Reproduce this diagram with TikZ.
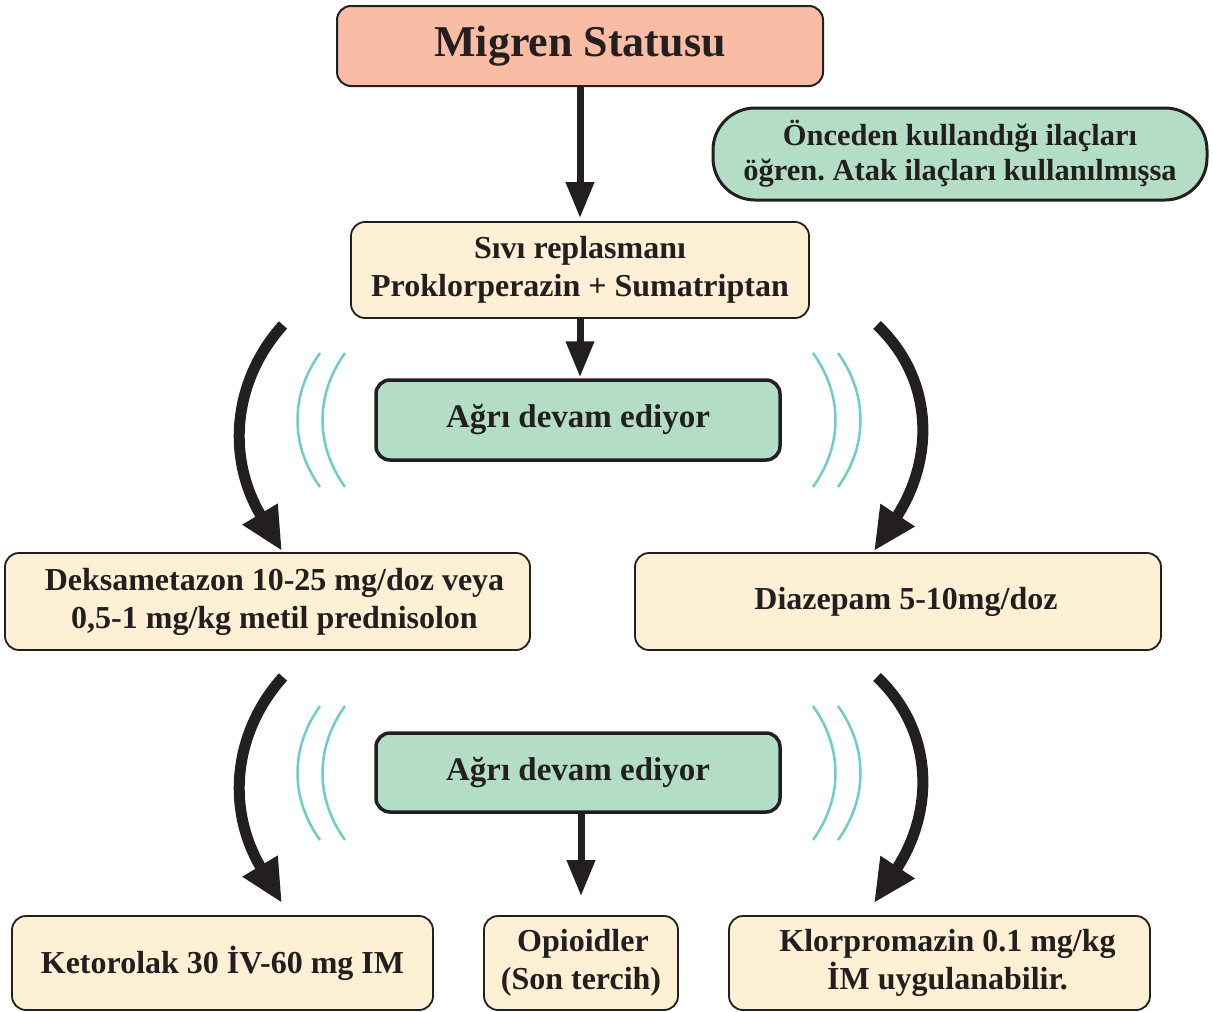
\documentclass[tikz,border=0pt]{standalone}
\usepackage{fontspec}
\setmainfont{Liberation Serif}
\usetikzlibrary{arrows.meta,calc}
\definecolor{ink}{HTML}{231F20}
\definecolor{cream}{HTML}{FEF0D4}
\definecolor{salmon}{HTML}{F9BDA6}
\definecolor{mint}{HTML}{B3DEC5}
\definecolor{aqua}{HTML}{6DCDC9}
\frenchspacing

\begin{document}
\begin{tikzpicture}[x=1pt,y=-1pt,
  box/.style={draw=ink, rounded corners=14pt, align=center, text=ink, inner sep=0pt,
              font=\bfseries\fontsize{32}{38}\selectfont},
  creambox/.style={box, fill=cream, line width=1.8pt},
  greenbox/.style={box, fill=mint, line width=3.5pt},
  flow/.style={draw=ink, line width=7pt, -{Triangle[length=36pt,width=27pt]}},
  bendarrow/.style={draw=ink, line width=11pt, -{Triangle[length=43pt,width=38pt]}},
  wave/.style={draw=aqua, line width=2.5pt},
]
\useasboundingbox (0,0) rectangle (1213,1012);

% boxes
\node[box, fill=salmon, line width=2pt, minimum width=486pt, minimum height=80pt,
      font=\bfseries\fontsize{44}{50}\selectfont] (title) at (580,46) {Migren Statusu};
\node[greenbox, rounded corners=42pt, line width=3pt, minimum width=494pt, minimum height=92pt,
      font=\bfseries\fontsize{30.5}{35}\selectfont] (prev) at (960,154)
      {Önceden kullandığı ilaçları\\öğren. Atak ilaçları kullanılmışsa};
\node[creambox, minimum width=458pt, minimum height=96pt] (sivi) at (580,270)
      {Sıvı replasmanı\\Proklorperazin + Sumatriptan};
\node[greenbox, minimum width=404pt, minimum height=80pt,
      font=\bfseries\fontsize{33}{38}\selectfont] (agri1) at (578,420) {Ağrı devam ediyor};
\node[creambox, minimum width=525pt, minimum height=97pt] (deks) at (267.5,601.5)
      {\hspace*{14pt}Deksametazon 10-25 mg/doz veya\\\hspace*{14pt}0,5-1 mg/kg metil prednisolon};
\node[creambox, minimum width=526pt, minimum height=97pt] (diaz) at (898,601.5)
      {\hspace*{16pt}Diazepam 5-10mg/doz};
\node[greenbox, minimum width=404pt, minimum height=79pt,
      font=\bfseries\fontsize{33}{38}\selectfont] (agri2) at (578,772.5) {Ağrı devam ediyor};
\node[creambox, minimum width=421pt, minimum height=94pt] (keto) at (222.5,963)
      {Ketorolak 30 İV-60 mg IM};
\node[creambox, minimum width=194pt, minimum height=94pt] (opio) at (581,963)
      {\hspace*{4pt}Opioidler\\(Son tercih)};
\node[creambox, minimum width=421pt, minimum height=94pt] (klor) at (939.5,963)
      {\hspace*{16pt}Klorpromazin 0.1 mg/kg\\\hspace*{16pt}İM uygulanabilir.};

% straight connectors
\draw[flow, shorten >=3pt] (title.south) -- (sivi.north);
\draw[flow, shorten >=1pt] (sivi.south) -- (sivi.south |- agri1.north);
\draw[flow, shorten >=19pt] (opio.north |- agri2.south) -- (opio.north);

% free ends of the bent connectors
\coordinate (l1s) at (283,325); \coordinate (l1e) at (282,551);
\coordinate (r1s) at (877,325); \coordinate (r1e) at (874,551);
\coordinate (l2s) at (283,677); \coordinate (l2e) at (282,903);
\coordinate (r2s) at (877,677); \coordinate (r2e) at (874,903);

% bent connectors
\draw[bendarrow] (l1s) .. controls (235,378) and (224.5,454.5) .. (l1e);
\draw[bendarrow] (r1s) .. controls (935,380) and (934,460) .. (r1e);
\draw[bendarrow] (l2s) .. controls (235,730) and (224.5,806.5) .. (l2e);
\draw[bendarrow] (r2s) .. controls (935,732) and (934,812) .. (r2e);

% aqua waves, upper level
\draw[wave] (320,353) .. controls (290,395) and (290,445) .. (320,487);
\draw[wave] (345,353) .. controls (315,395) and (315,445) .. (345,487);
\draw[wave] (813,353) .. controls (843,395) and (843,445) .. (813,487);
\draw[wave] (838,353) .. controls (868,395) and (868,445) .. (838,487);
% aqua waves, lower level
\draw[wave] (320,706) .. controls (290,748) and (290,798) .. (320,840);
\draw[wave] (345,706) .. controls (315,748) and (315,798) .. (345,840);
\draw[wave] (813,706) .. controls (843,748) and (843,798) .. (813,840);
\draw[wave] (838,706) .. controls (868,748) and (868,798) .. (838,840);
\end{tikzpicture}
\end{document}
